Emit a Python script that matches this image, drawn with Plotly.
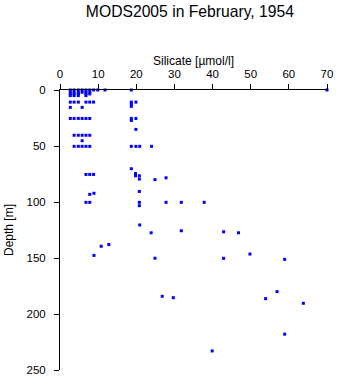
import plotly.graph_objects as go

# Silicate observations (µmol/l) and sample depths (m)
silicate = [
    2.7, 3.7, 4.8, 5.8, 6.8, 7.8, 8.8, 9.9, 11.8, 18.7, 70.0,
    2.7, 3.7, 4.8, 5.8, 6.8, 7.8,
    2.7, 3.7, 4.8, 6.8, 7.8,
    2.7, 3.7, 4.8, 6.8,
    2.7, 3.7, 4.8, 6.8, 7.8, 8.8, 18.7, 19.9,
    18.7,
    2.7, 5.8, 18.7,
    2.7, 3.7, 4.8, 5.8, 6.8, 7.8, 18.7, 19.9,
    18.7,
    19.9,
    3.7, 4.8, 5.8, 6.8, 7.8,
    5.8,
    3.7, 4.8, 5.8, 6.8, 7.8, 18.7, 19.9, 20.9, 24.0,
    18.7,
    6.8, 7.8, 8.8, 19.8,
    19.8, 20.8,
    27.8,
    20.8, 24.9,
    20.8,
    8.9,
    7.8,
    6.8, 7.8, 20.8, 27.8, 31.8, 37.8,
    20.8,
    20.9,
    31.8, 42.9,
    23.9, 46.8,
    12.8,
    10.8,
    49.8,
    8.9,
    24.9, 42.9,
    58.9,
    56.9,
    26.8,
    29.7,
    53.9,
    63.8,
    58.9,
    39.9,
]

depth = [
    0, 0, 0, 0, 0, 0, 0, 0, 0, 0, 0,
    2, 2, 2, 2, 2, 2,
    3.5, 3.5, 3.5, 3.5, 3.5,
    5, 5, 5, 5,
    10.8, 10.8, 10.8, 10.8, 10.8, 10.8, 10.8, 10.8,
    12.3,
    15.5, 15.5, 14.6,
    25.4, 25.4, 25.4, 25.4, 25.4, 25.4, 25.4, 25.4,
    27.2,
    35.2,
    40.4, 40.4, 40.4, 40.4, 40.4,
    45.3,
    50.3, 50.3, 50.3, 50.3, 50.3, 50.3, 50.3, 50.3, 50.3,
    70.3,
    75.4, 75.4, 75.4, 74.6,
    76.6, 76.6,
    78.4,
    79.5, 80.0,
    90.6,
    92.2,
    93.2,
    100.3, 100.3, 100.3, 100.3, 100.3, 100.3,
    103.3,
    120.5,
    125.7, 126.6,
    127.5, 127.5,
    138.0,
    139.5,
    146.5,
    147.7,
    150.2, 150.3,
    151.2,
    180.0,
    184.2,
    185.4,
    186.3,
    190.4,
    218.0,
    233.0,
]

x_ticks = [0, 10, 20, 30, 40, 50, 60, 70]
y_ticks = [0, 50, 100, 150, 200, 250]

font_family = "Liberation Sans, Arial, sans-serif"

fig = go.Figure(
    go.Scatter(
        x=silicate,
        y=depth,
        mode="markers",
        marker=dict(symbol="square", size=3, color="#0000ff", line=dict(width=0)),
        cliponaxis=False,
        hoverinfo="x+y",
    )
)

fig.update_layout(
    width=341,
    height=384,
    margin=dict(l=47, r=8, t=90, b=9, pad=0),
    paper_bgcolor="white",
    plot_bgcolor="white",
    showlegend=False,
    font=dict(family=font_family, color="black", size=11.5),
    title=dict(
        text="MODS2005 in February, 1954",
        x=0.557,
        xanchor="center",
        y=0.969,
        yanchor="middle",
        yref="container",
        font=dict(size=15.7, family=font_family, color="black"),
    ),
)

fig.update_xaxes(
    side="top",
    range=[0, 70],
    tickvals=x_ticks,
    ticks="outside",
    ticklen=5,
    tickwidth=1,
    tickcolor="black",
    showline=True,
    linecolor="black",
    linewidth=1,
    mirror=False,
    showgrid=False,
    zeroline=False,
    ticklabelstandoff=1,
    title=dict(text="Silicate [µmol/l]", font=dict(size=12), standoff=0),
)

fig.update_yaxes(
    range=[250, 0],
    tickvals=y_ticks,
    ticks="outside",
    ticklen=5,
    tickwidth=1,
    tickcolor="black",
    showline=True,
    linecolor="black",
    linewidth=1,
    mirror=False,
    showgrid=False,
    zeroline=False,
    ticklabelstandoff=6,
    title=dict(text="Depth [m]", font=dict(size=12), standoff=10),
)

fig.write_html("out.html")
